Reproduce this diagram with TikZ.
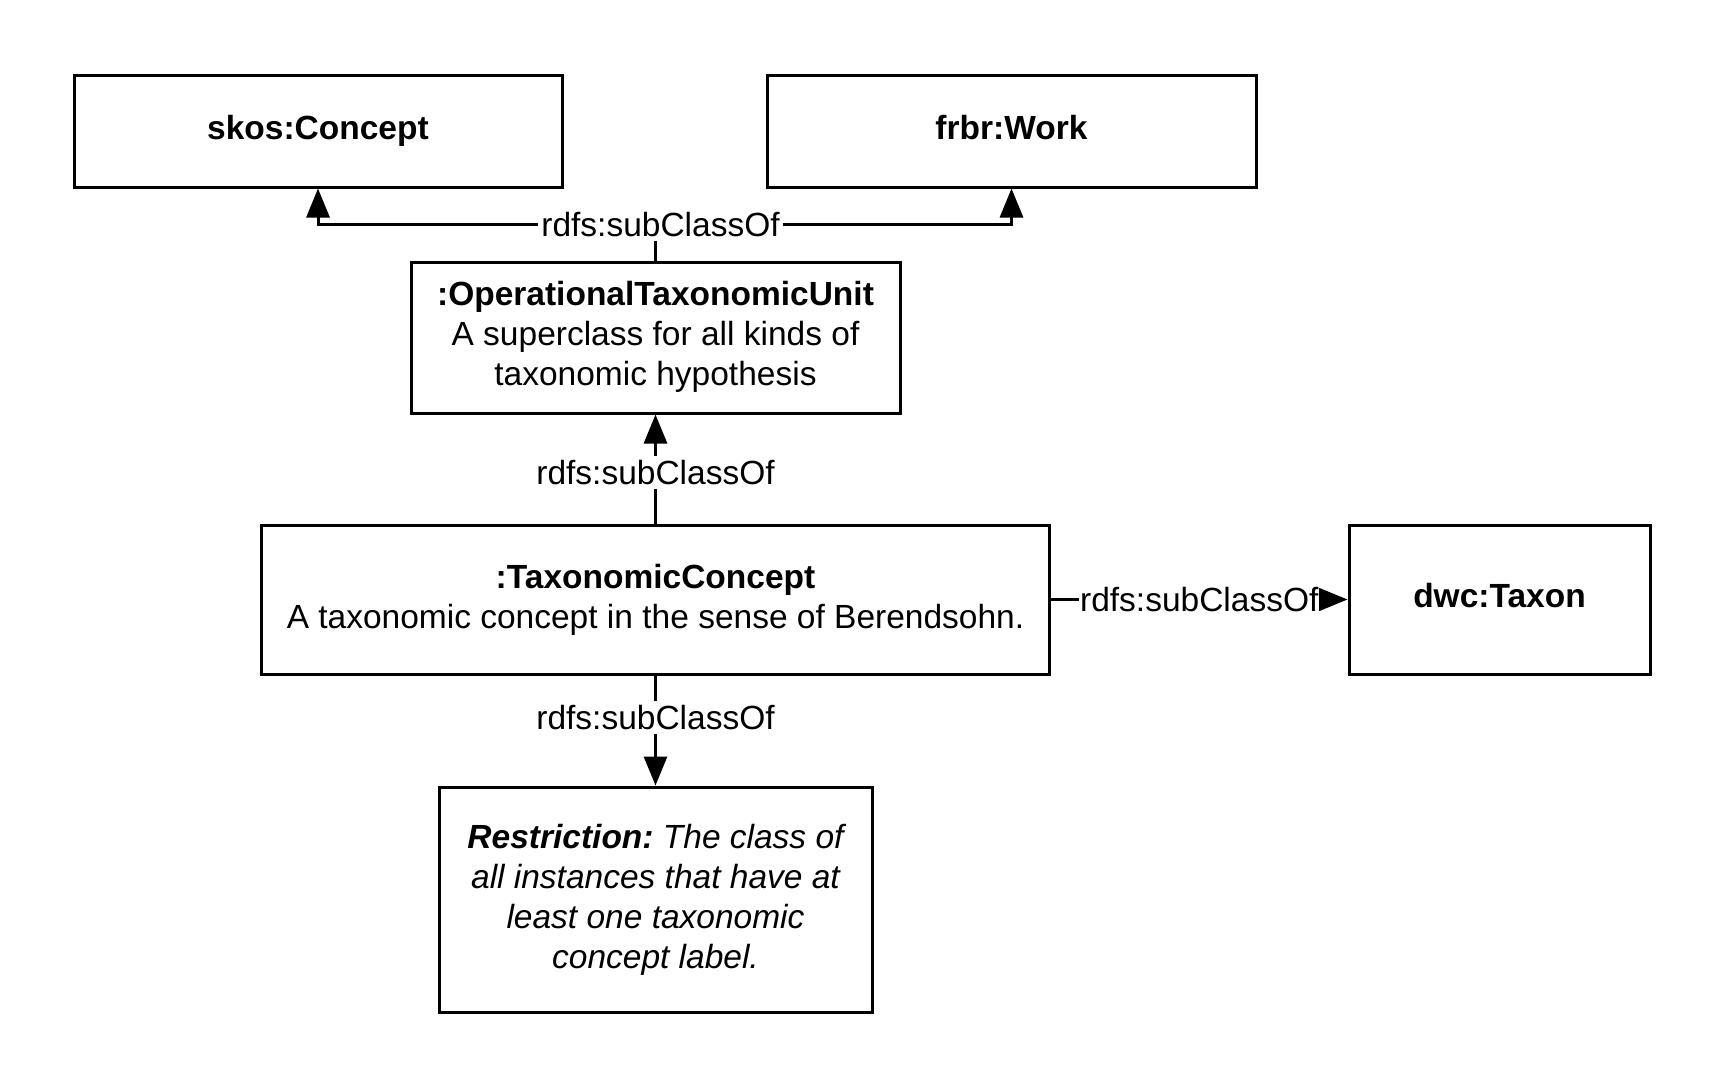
\documentclass[tikz,border=0pt]{standalone}
\usepackage{fontspec}
\setmainfont{Liberation Sans}
\usetikzlibrary{arrows.meta}
\begin{document}
\frenchspacing
\begin{tikzpicture}[x=1pt,y=-1pt,
  cls/.style={draw, line width=3pt, inner sep=0pt, align=center,
    font=\fontsize{33.5}{40}\selectfont},
  conn/.style={line width=3pt, -{Triangle[length=29pt,width=23pt]}},
  plain/.style={line width=3pt},
  lbl/.style={fill=white, inner xsep=3pt, inner ysep=4pt,
    font=\fontsize{33.5}{40}\selectfont}]
\useasboundingbox (0,0) rectangle (1725,1088);

% classes
\node[cls, minimum width=488pt, minimum height=112pt] (skos) at (318,131)
  {\strut\textbf{skos:Concept}};
\node[cls, minimum width=489pt, minimum height=112pt] (frbr) at (1011.5,131)
  {\strut\textbf{frbr:Work}};
\node[cls, minimum width=489pt, minimum height=151pt, text depth=8pt] (otu) at (655.5,337.5)
  {\textbf{:OperationalTaxonomicUnit}\\A superclass for all kinds of\\taxonomic hypothesis};
\node[cls, minimum width=788pt, minimum height=149pt] (tc) at (655.5,599.5)
  {\textbf{:TaxonomicConcept}\\A taxonomic concept in the sense of Berendsohn.};
\node[cls, minimum width=301pt, minimum height=149pt] (dwc) at (1499.5,599.5)
  {\strut\textbf{dwc:Taxon}};
\node[cls, font=\fontsize{33.5}{40}\selectfont\itshape,
      minimum width=433pt, minimum height=225pt] (restr) at (655.5,899.5)
  {{\bfseries Restriction:} The class of\\
   all instances that have at\\
   least one taxonomic\\
   concept label.};

% subclass links
\coordinate (junc) at (655.5,224.4);
\draw[plain] (otu.north) -- (junc);
\draw[conn] (junc) -| (skos.south);
\draw[conn] (junc) -| (frbr.south);
\node[lbl] (toplbl) at ([xshift=5pt]junc) {rdfs:subClassOf};

\draw[conn] (tc.north) -- (otu.south) node[lbl, pos=0.47] (midlbl) {rdfs:subClassOf};
\draw[conn] (tc.south) -- (restr.north) node[lbl, pos=0.38] (botlbl) {rdfs:subClassOf};
\draw[conn] (tc.east) -- (dwc.west) node[lbl, midway, inner xsep=1pt] (rlbl) {rdfs:subClassOf};
\end{tikzpicture}
\end{document}
